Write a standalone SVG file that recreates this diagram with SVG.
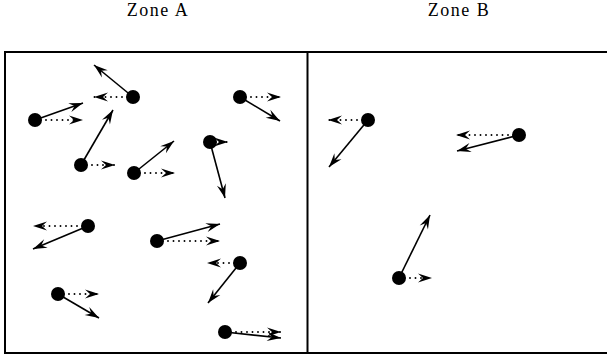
<svg xmlns="http://www.w3.org/2000/svg" width="607" height="360" viewBox="0 0 607 360">
<style>
.lbl{font-family:"Liberation Serif","DejaVu Serif",serif;font-size:18px;letter-spacing:1.5px;fill:#000;text-anchor:middle}
.frame{fill:none;stroke:#000;stroke-width:2}
.v{fill:none;stroke:#000;stroke-width:1.6;marker-end:url(#stealth)}
.d{fill:none;stroke:#000;stroke-width:1.9;stroke-linecap:round;stroke-dasharray:0 5.5;marker-end:url(#stealth)}
.p{fill:#000}
</style>
<defs>
<marker id="stealth" markerUnits="userSpaceOnUse" markerWidth="16" markerHeight="12" viewBox="-15 -6 16 12" refX="0" refY="0" orient="auto">
<path d="M0,0 L-14,-4.6 L-9,0 L-14,4.6 Z" fill="#000"/>
</marker>
</defs>
<rect width="607" height="360" fill="#fff"/>
<g id="labels">
<text class="lbl" x="158" y="16">Zone A</text>
<text class="lbl" x="459" y="16">Zone B</text>
</g>
<g id="zones">
<rect class="frame" x="5" y="52" width="612" height="301"/>
<line class="frame" x1="307.5" y1="52" x2="307.5" y2="353"/>
</g>
<g id="connectors">
<line class="v" x1="133" y1="97" x2="94" y2="65"/><line class="d" x1="133" y1="97" x2="94" y2="97"/>
<line class="v" x1="35" y1="120" x2="83" y2="103"/><line class="d" x1="35" y1="120" x2="83" y2="120"/>
<line class="v" x1="81" y1="165" x2="113" y2="110"/><line class="d" x1="81" y1="165" x2="115" y2="165"/>
<line class="v" x1="134" y1="173" x2="174" y2="141"/><line class="d" x1="134" y1="173" x2="175" y2="173"/>
<line class="v" x1="240" y1="97" x2="280" y2="121"/><line class="d" x1="240" y1="97" x2="281" y2="97"/>
<line class="v" x1="210" y1="142" x2="225" y2="198"/><line class="d" x1="210" y1="142" x2="228" y2="142"/>
<line class="v" x1="88" y1="226" x2="33" y2="249"/><line class="d" x1="88" y1="226" x2="33" y2="226"/>
<line class="v" x1="157" y1="241" x2="220" y2="224"/><line class="d" x1="157" y1="241" x2="220" y2="241"/>
<line class="v" x1="240" y1="263" x2="208" y2="303"/><line class="d" x1="240" y1="263" x2="207" y2="263"/>
<line class="v" x1="58" y1="294" x2="99" y2="318"/><line class="d" x1="58" y1="294" x2="99" y2="294"/>
<line class="v" x1="225" y1="332" x2="281" y2="338"/><line class="d" x1="225" y1="332" x2="281" y2="332"/>
<line class="v" x1="368" y1="120" x2="329" y2="167"/><line class="d" x1="368" y1="120" x2="328" y2="120"/>
<line class="v" x1="519" y1="135" x2="457" y2="151"/><line class="d" x1="519" y1="135" x2="456" y2="135"/>
<line class="v" x1="399" y1="278" x2="430" y2="215"/><line class="d" x1="399" y1="278" x2="432" y2="278"/>
</g>
<g id="p1"><circle class="p" cx="133" cy="97" r="7"/></g>
<g id="p2"><circle class="p" cx="35" cy="120" r="7"/></g>
<g id="p3"><circle class="p" cx="81" cy="165" r="7"/></g>
<g id="p4"><circle class="p" cx="134" cy="173" r="7"/></g>
<g id="p5"><circle class="p" cx="240" cy="97" r="7"/></g>
<g id="p6"><circle class="p" cx="210" cy="142" r="7"/></g>
<g id="p7"><circle class="p" cx="88" cy="226" r="7"/></g>
<g id="p8"><circle class="p" cx="157" cy="241" r="7"/></g>
<g id="p9"><circle class="p" cx="240" cy="263" r="7"/></g>
<g id="p10"><circle class="p" cx="58" cy="294" r="7"/></g>
<g id="p11"><circle class="p" cx="225" cy="332" r="7"/></g>
<g id="p12"><circle class="p" cx="368" cy="120" r="7"/></g>
<g id="p13"><circle class="p" cx="519" cy="135" r="7"/></g>
<g id="p14"><circle class="p" cx="399" cy="278" r="7"/></g>
</svg>
